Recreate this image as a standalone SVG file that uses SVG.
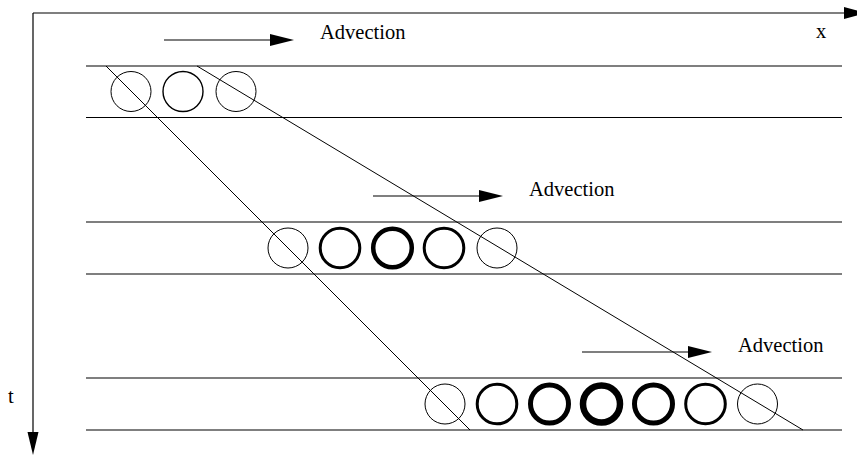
<svg xmlns="http://www.w3.org/2000/svg" width="857" height="459" viewBox="0 0 857 459">
<style>
.ln{stroke:#000;stroke-width:1.2;fill:none}
.dg{stroke:#000;stroke-width:1;fill:none}
.c{fill:none;stroke:#000}
.ah{fill:#000;stroke:none}
.lbl{font-family:"Liberation Serif","Times New Roman",serif;font-size:20.5px;fill:#000}
</style>
<rect width="857" height="459" fill="#fff"/>
<g id="axes">
<line class="ln" x1="33" y1="13" x2="848" y2="13"/>
<polygon class="ah" points="844,7 867,13 844,19"/>
<line class="ln" x1="33" y1="13" x2="33" y2="436"/>
<polygon class="ah" points="27.5,432 38.5,432 33,455"/>
<text class="lbl" x="816" y="38">x</text>
<text class="lbl" x="8" y="403">t</text>
</g>
<g id="bands">
<line class="ln" x1="86" y1="66" x2="842" y2="66"/>
<line class="ln" x1="86" y1="117.5" x2="842" y2="117.5"/>
<line class="ln" x1="86" y1="222" x2="842" y2="222"/>
<line class="ln" x1="86" y1="274" x2="842" y2="274"/>
<line class="ln" x1="86" y1="378" x2="842" y2="378"/>
<line class="ln" x1="86" y1="430" x2="842" y2="430"/>
</g>
<g id="advection1">
<line class="ln" x1="164" y1="40" x2="275" y2="40"/>
<polygon class="ah" points="270,34 294,40 270,46"/>
<text class="lbl" x="320" y="39">Advection</text>
</g>
<g id="advection2">
<line class="ln" x1="373" y1="196" x2="484" y2="196"/>
<polygon class="ah" points="479,190 503,196 479,202"/>
<text class="lbl" x="529" y="196">Advection</text>
</g>
<g id="advection3">
<line class="ln" x1="582" y1="352" x2="693" y2="352"/>
<polygon class="ah" points="688,346 712,352 688,358"/>
<text class="lbl" x="738" y="352">Advection</text>
</g>
<g id="row1">
<circle class="c" cx="131" cy="91.5" r="20" stroke-width="1"/>
<circle class="c" cx="183" cy="91.5" r="20" stroke-width="1.4"/>
<circle class="c" cx="236" cy="91.5" r="20" stroke-width="1"/>
</g>
<g id="row2">
<circle class="c" cx="288" cy="248" r="20" stroke-width="1"/>
<circle class="c" cx="340" cy="248" r="19.8" stroke-width="3"/>
<circle class="c" cx="392.5" cy="248" r="19.3" stroke-width="4.5"/>
<circle class="c" cx="444" cy="248" r="19.8" stroke-width="3"/>
<circle class="c" cx="497" cy="248" r="20" stroke-width="1"/>
</g>
<g id="row3">
<circle class="c" cx="445" cy="404" r="20" stroke-width="1"/>
<circle class="c" cx="497" cy="404" r="19.8" stroke-width="3"/>
<circle class="c" cx="549.5" cy="404" r="19" stroke-width="5"/>
<circle class="c" cx="601.5" cy="404" r="18.5" stroke-width="6.5"/>
<circle class="c" cx="653.5" cy="404" r="19" stroke-width="5"/>
<circle class="c" cx="705.5" cy="404" r="19.8" stroke-width="3"/>
<circle class="c" cx="757.5" cy="404" r="20" stroke-width="1"/>
</g>
<g id="connectors">
<line class="dg" x1="106" y1="66" x2="470" y2="430"/>
<line class="dg" x1="197" y1="66" x2="803" y2="430"/>
</g>
</svg>
